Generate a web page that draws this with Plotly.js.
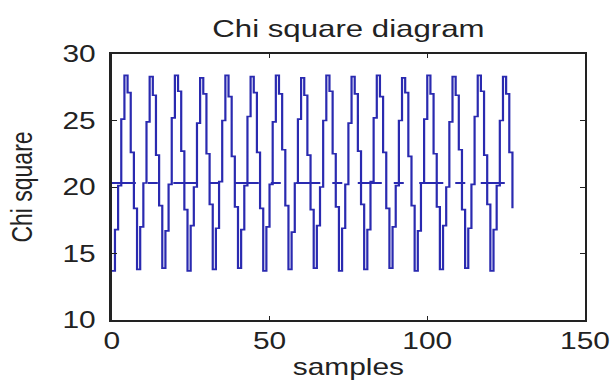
<!DOCTYPE html>
<html>
<head>
<meta charset="utf-8">
<script src="https://cdn.plot.ly/plotly-3.0.1.min.js"></script>
<style>
  html, body { margin: 0; padding: 0; background: #fff; overflow: hidden; }
  #chart { width: 470px; height: 381px; transform: scaleX(1.3); transform-origin: 0 0; }
</style>
</head>
<body>
<div id="chart"></div>
<script>
// Sample index 0..127
const samples = Array.from({length: 128}, (_, i) => i);

// Chi square values (period of 8 samples)
const chiSquare = [
  13.7, 16.8, 20.1, 25.1, 28.4, 27.1, 22.6, 18.4,
  13.8, 17.0, 20.3, 24.9, 28.3, 26.9, 22.4, 18.6,
  13.9, 16.7, 20.2, 25.2, 28.4, 27.2, 22.7, 18.3,
  13.7, 17.1, 20.0, 24.8, 28.2, 27.0, 22.5, 18.7,
  13.8, 16.9, 20.4, 25.0, 28.4, 26.8, 22.3, 18.5,
  13.9, 16.8, 20.1, 25.3, 28.3, 27.1, 22.6, 18.4,
  13.7, 17.0, 20.2, 24.9, 28.4, 27.0, 22.8, 18.6,
  13.8, 16.6, 20.3, 25.1, 28.2, 26.9, 22.4, 18.3,
  13.9, 17.1, 20.0, 25.0, 28.4, 27.2, 22.5, 18.5,
  13.7, 16.9, 20.2, 24.8, 28.3, 27.0, 22.7, 18.7,
  13.8, 16.8, 20.4, 25.2, 28.4, 26.8, 22.6, 18.4,
  13.9, 17.0, 20.1, 25.0, 28.2, 27.1, 22.3, 18.6,
  13.7, 16.7, 20.3, 25.1, 28.4, 27.0, 22.5, 18.5,
  13.8, 17.1, 20.0, 24.9, 28.3, 26.9, 22.8, 18.3,
  13.9, 16.9, 20.2, 25.3, 28.4, 27.2, 22.4, 18.7,
  13.7, 16.8, 20.1, 25.0, 28.3, 27.0, 22.6, 18.4
];

// Threshold (dash-dot) line
const thresholdX = [0, 127];
const thresholdY = [20.3, 20.3];

const xTicks = [0, 50, 100, 150];
const yTicks = [10, 15, 20, 25, 30];

const font = "Liberation Sans, Arial, sans-serif";
const lineBlue = "#2a2ab0";

const traces = [
  {
    x: samples, y: chiSquare, type: "scatter", mode: "lines",
    line: { color: lineBlue, width: 1.7, shape: "hv" }, hoverinfo: "skip"
  },
  {
    x: thresholdX, y: thresholdY, type: "scatter", mode: "lines",
    line: { color: lineBlue, width: 2, dash: "18.5px,9.2px,7.7px,11.9px" }, hoverinfo: "skip"
  }
];

const axisCommon = {
  showgrid: false, zeroline: false, showline: true, mirror: "ticks",
  linecolor: "#222", linewidth: 1.8, ticks: "inside", ticklen: 4,
  tickcolor: "#222", tickwidth: 1,
  tickfont: { family: font, size: 23, color: "#222" }
};

const layout = {
  width: 470, height: 381,
  margin: { l: 86, r: 20, t: 54, b: 61 },
  paper_bgcolor: "#fff", plot_bgcolor: "#fff",
  showlegend: false,
  title: {
    text: "Chi square diagram",
    font: { family: font, size: 24, color: "#222" },
    x: 0.5, xref: "paper", y: 0.926, yref: "container", yanchor: "middle"
  },
  xaxis: Object.assign({}, axisCommon, {
    range: [0, 150], tickvals: xTicks, ticktext: xTicks.map(String),
    title: { text: "samples", font: { family: font, size: 23, color: "#222" }, standoff: 4 }
  }),
  yaxis: Object.assign({}, axisCommon, {
    range: [10, 30], tickvals: yTicks, ticktext: yTicks.map(String),
    ticklabelstandoff: 6,
    title: { text: "Chi square", font: { family: font, size: 23, color: "#222" }, standoff: 16 }
  })
};

Plotly.newPlot("chart", traces, layout, { staticPlot: true, displayModeBar: false, responsive: false });
</script>
</body>
</html>
